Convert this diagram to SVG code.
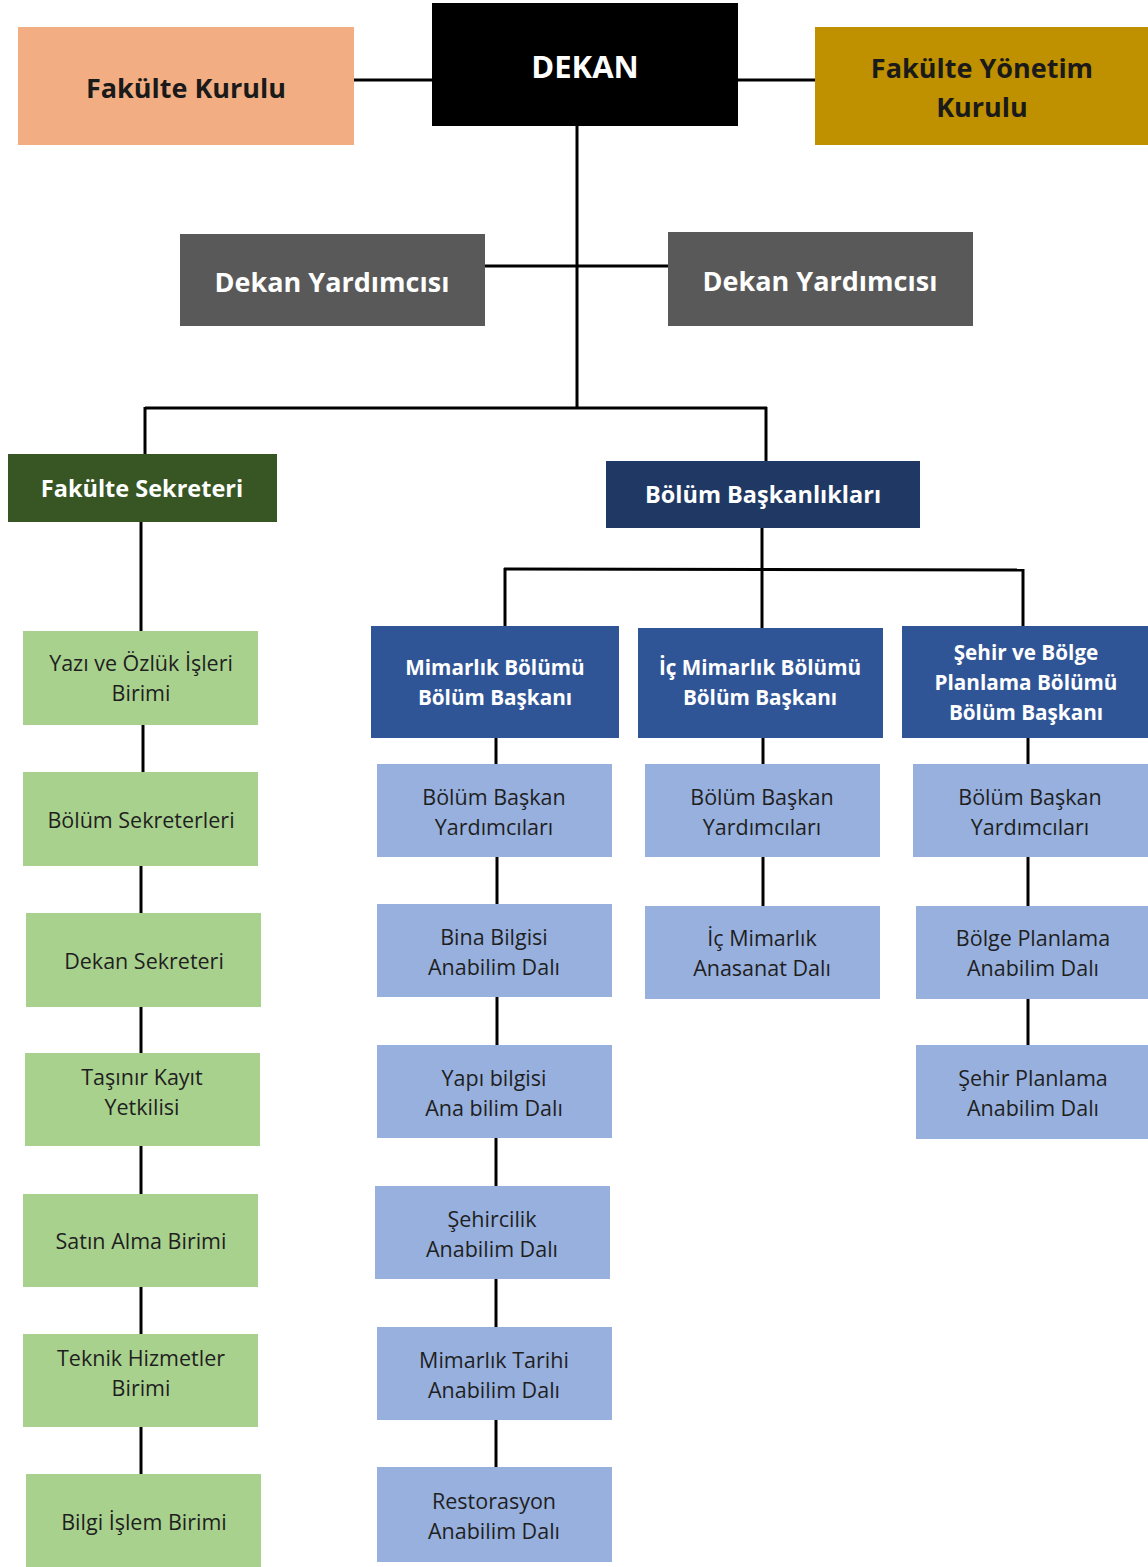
<svg xmlns="http://www.w3.org/2000/svg" width="1148" height="1567" viewBox="0 0 1148 1567">
<style>
text{font-family:"Open Sans","Noto Sans","Liberation Sans",sans-serif;text-anchor:middle;dominant-baseline:central}
.b{font-weight:bold;fill:#fff}
.bk{font-weight:bold;fill:#1a1a1a}
.r{fill:#1f1f1f;font-size:21.5px}
.m{font-size:20.7px}
.g{fill:#A9D18E}
.lb{fill:#97B0DE}
.db{fill:#2F5597}
.c line{stroke:#000;stroke-width:3}
</style>
<rect width="1148" height="1567" fill="#fff"/>
<g class="c" id="connectors">
<line x1="354" y1="80" x2="432" y2="80"/>
<line x1="738" y1="80" x2="815" y2="80"/>
<line x1="577" y1="126" x2="577" y2="409"/>
<line x1="485" y1="266" x2="668" y2="266"/>
<line x1="145" y1="408" x2="767" y2="408"/>
<line x1="145" y1="407" x2="145" y2="455"/>
<line x1="766" y1="407" x2="766" y2="461"/>
<line x1="141" y1="522" x2="141" y2="631"/>
<line x1="762" y1="528" x2="762" y2="628"/>
<line x1="504" y1="569" x2="1024" y2="570"/>
<line x1="505" y1="568" x2="505" y2="626"/>
<line x1="1023" y1="569" x2="1023" y2="626"/>
<line x1="143" y1="725" x2="143" y2="772"/>
<line x1="141" y1="866" x2="141" y2="913"/>
<line x1="141" y1="1007" x2="141" y2="1053"/>
<line x1="141" y1="1146" x2="141" y2="1194"/>
<line x1="141" y1="1287" x2="141" y2="1334"/>
<line x1="141" y1="1427" x2="141" y2="1474"/>
<line x1="496" y1="738" x2="496" y2="764"/>
<line x1="497" y1="857" x2="497" y2="904"/>
<line x1="497" y1="997" x2="497" y2="1045"/>
<line x1="496" y1="1138" x2="496" y2="1186"/>
<line x1="496" y1="1279" x2="496" y2="1327"/>
<line x1="496" y1="1420" x2="496" y2="1467"/>
<line x1="763" y1="738" x2="763" y2="764"/>
<line x1="763" y1="857" x2="763" y2="906"/>
<line x1="1028" y1="738" x2="1028" y2="764"/>
<line x1="1028" y1="857" x2="1028" y2="906"/>
<line x1="1028" y1="999" x2="1028" y2="1045"/>
</g>
<g id="fakulte-kurulu"><rect x="18" y="27" width="336" height="118" fill="#F2AE82"/><text class="bk" x="186" y="87" font-size="27">Fakülte Kurulu</text></g>
<g id="dekan"><rect x="432" y="3" width="306" height="123" fill="#000"/><text class="b" x="585" y="66" font-size="31">DEKAN</text></g>
<g id="fakulte-yonetim-kurulu"><rect x="815" y="27" width="333" height="118" fill="#BF9000"/><text class="bk" x="982" y="67" font-size="27">Fakülte Yönetim</text><text class="bk" x="982" y="106" font-size="27">Kurulu</text></g>
<g id="dekan-yrd-1"><rect x="180" y="234" width="305" height="92" fill="#595959"/><text class="b" x="332" y="281" font-size="27">Dekan Yardımcısı</text></g>
<g id="dekan-yrd-2"><rect x="668" y="232" width="305" height="94" fill="#595959"/><text class="b" x="820" y="280" font-size="27">Dekan Yardımcısı</text></g>
<g id="fakulte-sekreteri"><rect x="8" y="454" width="269" height="68" fill="#375623"/><text class="b" x="142" y="488" font-size="23.5">Fakülte Sekreteri</text></g>
<g id="bolum-baskanliklari"><rect x="606" y="461" width="314" height="67" fill="#203864"/><text class="b" x="763" y="494" font-size="23.5">Bölüm Başkanlıkları</text></g>
<g id="mimarlik-bolumu"><rect class="db" x="371" y="626" width="248" height="112"/><text class="b m" x="495" y="667">Mimarlık Bölümü</text><text class="b m" x="495" y="697">Bölüm Başkanı</text></g>
<g id="ic-mimarlik-bolumu"><rect class="db" x="638" y="628" width="245" height="110"/><text class="b m" x="760" y="667">İç Mimarlık Bölümü</text><text class="b m" x="760" y="697">Bölüm Başkanı</text></g>
<g id="sehir-bolge-bolumu"><rect class="db" x="902" y="626" width="246" height="112"/><text class="b m" x="1026" y="652">Şehir ve Bölge</text><text class="b m" x="1026" y="682">Planlama Bölümü</text><text class="b m" x="1026" y="712">Bölüm Başkanı</text></g>
<g id="yazi-ozluk"><rect class="g" x="23" y="631" width="235" height="94"/><text class="r" x="141" y="662">Yazı ve Özlük İşleri</text><text class="r" x="141" y="692">Birimi</text></g>
<g id="bolum-sekreterleri"><rect class="g" x="23" y="772" width="235" height="94"/><text class="r" x="141" y="819">Bölüm Sekreterleri</text></g>
<g id="dekan-sekreteri"><rect class="g" x="26" y="913" width="235" height="94"/><text class="r" x="144" y="960">Dekan Sekreteri</text></g>
<g id="tasinir-kayit"><rect class="g" x="25" y="1053" width="235" height="93"/><text class="r" x="142" y="1076">Taşınır Kayıt</text><text class="r" x="142" y="1106">Yetkilisi</text></g>
<g id="satin-alma"><rect class="g" x="23" y="1194" width="235" height="93"/><text class="r" x="141" y="1240">Satın Alma Birimi</text></g>
<g id="teknik-hizmetler"><rect class="g" x="23" y="1334" width="235" height="93"/><text class="r" x="141" y="1357">Teknik Hizmetler</text><text class="r" x="141" y="1387">Birimi</text></g>
<g id="bilgi-islem"><rect class="g" x="26" y="1474" width="235" height="93"/><text class="r" x="144" y="1521">Bilgi İşlem Birimi</text></g>
<g id="mim-byrd"><rect class="lb" x="377" y="764" width="235" height="93"/><text class="r" x="494" y="796">Bölüm Başkan</text><text class="r" x="494" y="826">Yardımcıları</text></g>
<g id="bina-bilgisi"><rect class="lb" x="377" y="904" width="235" height="93"/><text class="r" x="494" y="936">Bina Bilgisi</text><text class="r" x="494" y="966">Anabilim Dalı</text></g>
<g id="yapi-bilgisi"><rect class="lb" x="377" y="1045" width="235" height="93"/><text class="r" x="494" y="1077">Yapı bilgisi</text><text class="r" x="494" y="1107">Ana bilim Dalı</text></g>
<g id="sehircilik"><rect class="lb" x="375" y="1186" width="235" height="93"/><text class="r" x="492" y="1218">Şehircilik</text><text class="r" x="492" y="1248">Anabilim Dalı</text></g>
<g id="mimarlik-tarihi"><rect class="lb" x="377" y="1327" width="235" height="93"/><text class="r" x="494" y="1359">Mimarlık Tarihi</text><text class="r" x="494" y="1389">Anabilim Dalı</text></g>
<g id="restorasyon"><rect class="lb" x="377" y="1467" width="235" height="95"/><text class="r" x="494" y="1500">Restorasyon</text><text class="r" x="494" y="1530">Anabilim Dalı</text></g>
<g id="ic-byrd"><rect class="lb" x="645" y="764" width="235" height="93"/><text class="r" x="762" y="796">Bölüm Başkan</text><text class="r" x="762" y="826">Yardımcıları</text></g>
<g id="ic-mimarlik-anasanat"><rect class="lb" x="645" y="906" width="235" height="93"/><text class="r" x="762" y="937">İç Mimarlık</text><text class="r" x="762" y="967">Anasanat Dalı</text></g>
<g id="sbp-byrd"><rect class="lb" x="913" y="764" width="235" height="93"/><text class="r" x="1030" y="796">Bölüm Başkan</text><text class="r" x="1030" y="826">Yardımcıları</text></g>
<g id="bolge-planlama"><rect class="lb" x="916" y="906" width="232" height="93"/><text class="r" x="1033" y="937">Bölge Planlama</text><text class="r" x="1033" y="967">Anabilim Dalı</text></g>
<g id="sehir-planlama"><rect class="lb" x="916" y="1045" width="232" height="94"/><text class="r" x="1033" y="1077">Şehir Planlama</text><text class="r" x="1033" y="1107">Anabilim Dalı</text></g>
</svg>
